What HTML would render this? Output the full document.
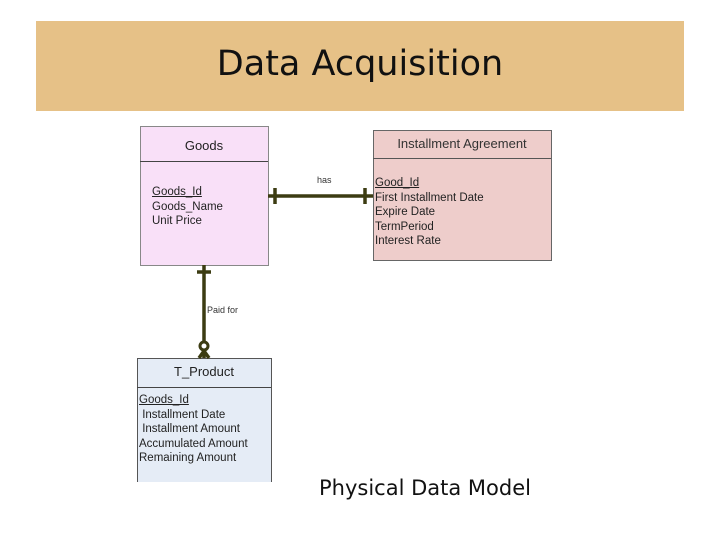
<html><head><style>
body{margin:0;width:720px;height:540px;background:#fff;position:relative;font-family:"Liberation Sans",sans-serif;overflow:hidden}
.a{position:absolute}
.t{font-size:11.5px;color:#222;line-height:14.5px}
</style></head><body>
<div class="a" style="left:36px;top:21px;width:648px;height:90px;background:#e6c187"></div>
<div class="a" style="left:36px;top:44px;width:648px;text-align:center;font-family:'DejaVu Sans','Liberation Sans',sans-serif;font-size:35px;color:#111">Data Acquisition</div>

<div class="a" style="left:140px;top:126px;width:127px;height:138px;background:#f9e0f8;border:1px solid #888"></div>
<div class="a" style="left:140px;top:161px;width:128px;height:1px;background:#444"></div>
<div class="a" style="left:140px;top:138px;width:128px;text-align:center;font-size:13px;color:#222">Goods</div>
<div class="a t" style="left:152px;top:185px"><u>Goods_Id</u><br>Goods_Name<br>Unit Price</div>

<div class="a" style="left:373px;top:130px;width:177px;height:129px;background:#eecdcb;border:1px solid #666"></div>
<div class="a" style="left:373px;top:158px;width:178px;height:1px;background:#555"></div>
<div class="a" style="left:373px;top:136px;width:178px;text-align:center;font-size:13px;color:#333">Installment Agreement</div>
<div class="a t" style="left:375px;top:176px"><u>Good_Id</u><br>First Installment Date<br>Expire Date<br>TermPeriod<br>Interest Rate</div>
<div class="a" style="left:317px;top:175px;font-size:9px;color:#333">has</div>

<div class="a" style="left:137px;top:358px;width:133px;height:123px;background:#e5ecf6;border:1px solid #555;border-bottom:none"></div>
<div class="a" style="left:137px;top:387px;width:134px;height:1px;background:#444"></div>
<div class="a" style="left:137px;top:364px;width:134px;text-align:center;font-size:13px;color:#222">T_Product</div>
<div class="a t" style="left:139px;top:393px"><u>Goods_Id</u><br>&nbsp;Installment Date<br>&nbsp;Installment Amount<br>Accumulated Amount<br>Remaining Amount</div>
<div class="a" style="left:207px;top:305px;font-size:9px;color:#333">Paid for</div>

<svg class="a" style="left:0;top:0" width="720" height="540">
<g stroke="#3c3c12" stroke-width="3.5" fill="none">
<line x1="268" y1="196" x2="373" y2="196"/>
<line x1="275" y1="188" x2="275" y2="204"/>
<line x1="365" y1="188" x2="365" y2="204"/>
<line x1="204" y1="265" x2="204" y2="341"/>
<line x1="197" y1="272" x2="211" y2="272"/>
<circle cx="204" cy="346" r="4" stroke-width="3"/>
<line x1="204" y1="351" x2="204" y2="358"/>
<line x1="204" y1="351" x2="199" y2="358"/>
<line x1="204" y1="351" x2="209" y2="358"/>
</g>
</svg>
<div class="a" style="left:319px;top:476px;font-family:'DejaVu Sans','Liberation Sans',sans-serif;font-size:21px;color:#111">Physical Data Model</div>
</body></html>
